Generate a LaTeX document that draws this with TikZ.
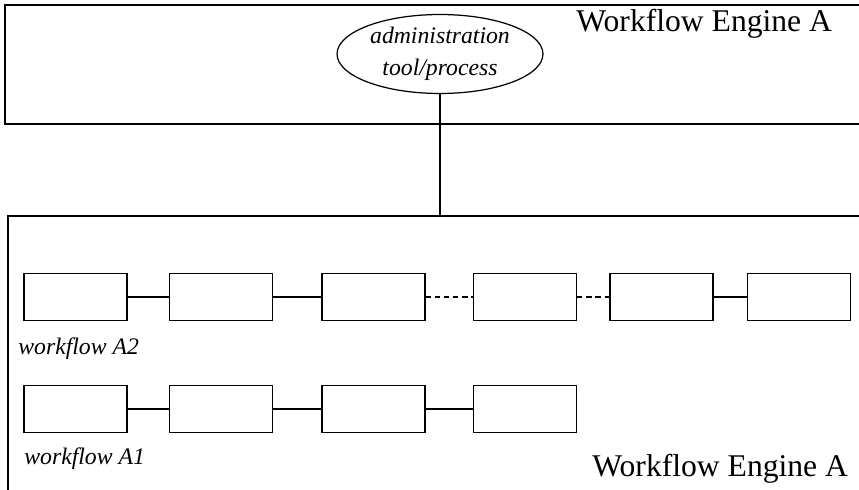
\documentclass[tikz,border=0pt]{standalone}
\usepackage{fontspec}
\setmainfont{Liberation Serif}
\usepackage{tikz}
\usetikzlibrary{shapes.geometric}

\begin{document}
\begin{tikzpicture}[x=0.02cm,y=0.02cm,
	task/.style={draw,line width=0.8pt,minimum width=2.06cm,minimum height=0.95cm,inner sep=0pt},
	link/.style={line width=0.7pt},
	gap/.style={line width=1pt,dash pattern=on 3pt off 2.2pt},
	wfname/.style={font=\fontsize{13.5}{15}\selectfont\itshape,anchor=west,inner sep=0pt},
	engine/.style={font=\fontsize{18}{20}\selectfont,anchor=west,inner sep=0pt}]
	\useasboundingbox (0,0) rectangle (859,490);
	\clip (0,0) rectangle (859,490);
% engine frames
	\draw[line width=0.7pt] (5,366) rectangle (880,485);
	\draw[line width=0.7pt] (8,-20) -- (8,274) -- (880,274);
	\node[engine] (top) at (576,466) {Workflow Engine A};
	\node[engine] (bottom) at (592,21) {Workflow Engine A};
% administration
	\node[draw,ellipse,line width=0.7pt,minimum width=4.12cm,minimum height=1.58cm,inner sep=0pt,
		font=\fontsize{13.5}{18}\selectfont\itshape,align=center] (admin) at (440,436)
		{administration\\tool/process};
	\coordinate (join) at (440,274);
	\draw[link] (admin.south) -- (join);
% workflow A2
	\node[task] (b1) at (75.5,193) {};
	\node[task] (b2) at (221,193) {};
	\node[task] (b3) at (373.5,193) {};
	\node[task] (b4) at (525,193) {};
	\node[task] (b5) at (661.5,193) {};
	\node[task] (b6) at (799,193) {};
	\draw[link] (b1) -- (b2);
	\draw[link] (b2) -- (b3);
	\draw[gap] (b3) -- (b4);
	\draw[gap] (b4) -- (b5);
	\draw[link] (b5) -- (b6);
	\node[wfname] (wfA2) at (18,141) {workflow A2};
% workflow A1
	\node[task] (a1) at (75.5,81) {};
	\node[task] (a2) at (221,81) {};
	\node[task] (a3) at (373.5,81) {};
	\node[task] (a4) at (525,81) {};
	\draw[link] (a1) -- (a2);
	\draw[link] (a2) -- (a3);
	\draw[link] (a3) -- (a4);
	\node[wfname] (wfA1) at (24,31) {workflow A1};
\end{tikzpicture}
\end{document}
